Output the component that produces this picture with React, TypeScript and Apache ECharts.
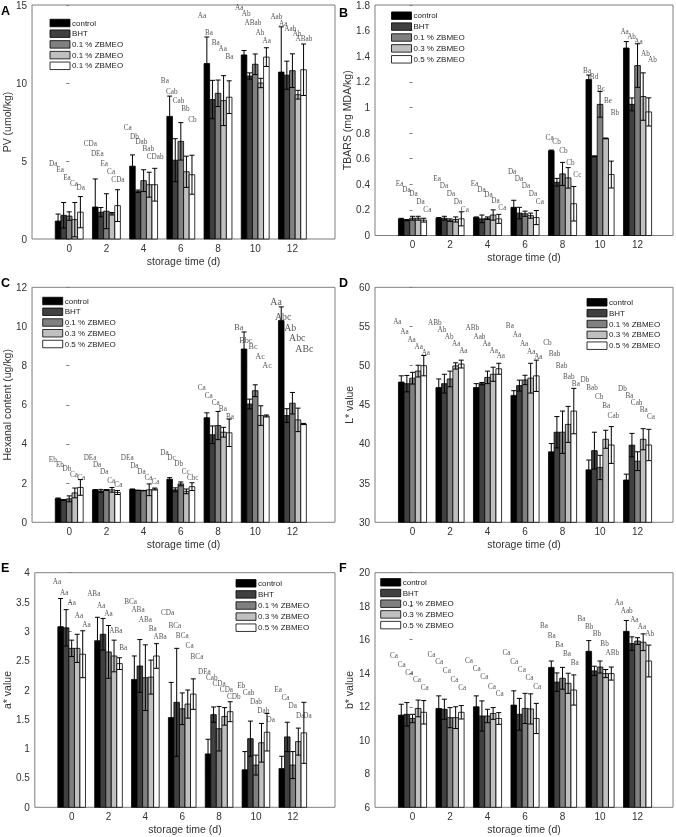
import React, { useEffect, useRef } from "react";
import * as echarts from "echarts";

// ---------- data ----------
const days = [0, 2, 4, 6, 8, 10, 12];
const treatments = ["control", "BHT", "0.1 % ZBMEO", "0.3 % ZBMEO", "0.5 % ZBMEO"];
const legendNamesA = ["control", "BHT", "0.1 % ZBMEO", "0.1 % ZBMEO", "0.1 % ZBMEO"];

// A: PV (umol/kg) — rows = treatments, cols = days
const pvMean = [
  [1.15, 2.05, 4.67, 7.86, 11.25, 11.8, 10.7],
  [1.52, 1.72, 3.06, 5.05, 8.94, 10.45, 10.5],
  [1.47, 1.78, 3.74, 6.26, 9.34, 11.2, 10.79],
  [1.24, 1.62, 3.48, 4.31, 8.87, 10.0, 9.25],
  [1.72, 2.14, 3.48, 4.12, 9.09, 11.66, 10.85],
];
const pvErr = [
  [0.45, 1.8, 0.72, 1.3, 1.7, 0.28, 2.9],
  [0.82, 0.3, 0.08, 1.38, 1.23, 0.2, 0.9],
  [0.27, 1.12, 0.7, 1.2, 0.85, 0.66, 1.08],
  [1.1, 0.08, 0.8, 1.0, 1.6, 0.3, 0.28],
  [1.0, 1.02, 1.05, 1.25, 1.05, 0.6, 1.65],
];
// letters / label heights — rows = days, cols = treatments
const pvLetters = [
  ["Da", "Ea", "Ea", "Ca", "Da"],
  ["CDa", "DEa", "Ea", "Ca", "CDa"],
  ["Ca", "Db", "Dab", "Bab", "CDab"],
  ["Ba", "Cab", "Cab", "Bb", "Cb"],
  ["Aa", "Ba", "Ba", "Aa", "Ba"],
  ["Aa", "Ab", "ABab", "Ab", "Aa"],
  ["Aab", "Aa", "Aab", "Ab", "ABab"],
];
const pvLabelY = [
  [4.83, 4.45, 3.91, 3.55, 3.24],
  [6.11, 5.47, 4.83, 4.29, 3.81],
  [7.1, 6.57, 6.25, 5.79, 5.25],
  [10.1, 9.4, 8.87, 8.34, 7.66],
  [14.3, 13.23, 12.55, 12.17, 11.68],
  [14.79, 14.44, 13.87, 13.23, 12.7],
  [14.23, 13.8, 13.45, 13.13, 12.85],
];

// B: TBARS (mg MDA/kg)
const tbarsMean = [
  [0.13, 0.135, 0.14, 0.22, 0.662, 1.218, 1.464],
  [0.12, 0.135, 0.13, 0.175, 0.416, 0.618, 1.024],
  [0.135, 0.12, 0.135, 0.17, 0.481, 1.024, 1.327],
  [0.135, 0.125, 0.16, 0.155, 0.45, 0.758, 1.085],
  [0.12, 0.13, 0.13, 0.14, 0.248, 0.476, 0.965],
];
const tbarsErr = [
  [0.004, 0.005, 0.005, 0.055, 0.005, 0.035, 0.05],
  [0.005, 0.015, 0.03, 0.045, 0.03, 0.004, 0.05],
  [0.015, 0.01, 0.01, 0.02, 0.09, 0.1, 0.17],
  [0.015, 0.02, 0.04, 0.02, 0.08, 0.003, 0.185],
  [0.015, 0.055, 0.035, 0.055, 0.135, 0.105, 0.11],
];
const tbarsLetters = [
  ["Ea", "Da", "Da", "Da", "Ca"],
  ["Ea", "Da", "Da", "Da", "Ca"],
  ["Ea", "Da", "Da", "Da", "Ca"],
  ["Da", "Da", "Da", "Da", "Ca"],
  ["Ca", "Cb", "Cb", "Cb", "Cc"],
  ["Ba", "Bd", "Bc", "Be", "Bb"],
  ["Aa", "Ab", "Aa", "Ab", "Ab"],
];
const tbarsLabelY = [
  [0.403, 0.352, 0.321, 0.259, 0.202],
  [0.442, 0.385, 0.326, 0.259, 0.202],
  [0.403, 0.357, 0.318, 0.266, 0.212],
  [0.497, 0.442, 0.385, 0.321, 0.259],
  [0.765, 0.727, 0.657, 0.569, 0.476],
  [1.288, 1.239, 1.146, 1.05, 0.954],
  [1.593, 1.554, 1.51, 1.42, 1.368],
];

// C: Hexanal content (ug/kg)
const hexMean = [
  [1.21, 1.65, 1.68, 2.2, 5.34, 8.85, 10.3],
  [1.14, 1.6, 1.63, 1.66, 4.47, 6.04, 5.45],
  [1.2, 1.65, 1.62, 1.96, 4.94, 6.72, 6.08],
  [1.5, 1.66, 1.66, 1.58, 4.6, 5.45, 5.23],
  [1.78, 1.52, 1.7, 1.82, 4.57, 5.43, 5.02],
];
const hexErr = [
  [0.03, 0.02, 0.02, 0.08, 0.25, 0.87, 0.7],
  [0.02, 0.08, 0.01, 0.1, 0.45, 0.25, 0.35],
  [0.15, 0.02, 0.01, 0.1, 0.72, 0.3, 0.55],
  [0.25, 0.12, 0.3, 0.12, 0.25, 0.5, 0.6],
  [0.4, 0.1, 0.05, 0.2, 0.7, 0.05, 0.03],
];
const hexLetters = [
  ["Eb", "Eb", "Db", "Ca", "Ca"],
  ["DEa", "Da", "Da", "Ca", "Ca"],
  ["DEa", "Da", "Da", "Ca", "Ca"],
  ["Da", "Dc", "Db", "Cc", "Cbc"],
  ["Ca", "Ca", "Ca", "Ba", "Ba"],
  ["Ba", "Bbc", "Bc", "Ac", "Ac"],
  ["Aa", "Abc", "Ab", "Abc", "ABc"],
];
const hexLabelY = [
  [3.18, 2.93, 2.71, 2.42, 2.25],
  [3.27, 2.93, 2.59, 2.13, 1.91],
  [3.3, 2.89, 2.55, 2.25, 2.04],
  [3.52, 3.3, 2.96, 2.55, 2.25],
  [6.84, 6.45, 6.08, 5.77, 5.4],
  [9.94, 9.28, 8.97, 8.49, 8.03],
  [11.27, 10.5, 9.96, 9.43, 8.89],
];

// D: L* value
const lMean = [
  [47.9, 47.2, 47.2, 46.2, 39.0, 36.7, 35.4],
  [47.7, 47.7, 47.7, 47.45, 41.5, 39.15, 39.85],
  [48.4, 48.3, 48.5, 48.17, 41.5, 37.0, 37.8],
  [49.3, 49.96, 48.9, 48.4, 42.5, 40.6, 40.6],
  [50.0, 50.2, 49.6, 48.7, 44.2, 39.87, 39.87],
];
const lErr = [
  [0.8, 1.1, 0.5, 0.6, 1.05, 1.25, 0.75],
  [1.05, 1.2, 0.15, 0.7, 2.0, 2.35, 1.5],
  [0.75, 1.0, 0.8, 0.6, 2.7, 1.55, 1.2],
  [0.75, 0.4, 0.9, 1.9, 2.3, 1.15, 1.35],
  [1.3, 0.5, 0.7, 2.0, 2.9, 2.35, 2.0],
];
const lLetters = [
  ["Aa", "Aa", "Aa", "Aa", "Aa"],
  ["ABb", "Ab", "Ab", "Aa", "Aa"],
  ["ABb", "Aab", "Aa", "Aa", "Aa"],
  ["Ba", "Aa", "Aa", "Aa", "Aa"],
  ["Cb", "Bab", "Bab", "Bab", "Ba"],
  ["Db", "Bab", "Cb", "Ba", "Cab"],
  ["Db", "Ba", "Cab", "Ba", "Ca"],
];
const lLabelY = [
  [55.6, 54.26, 53.28, 52.4, 51.6],
  [55.4, 54.5, 53.6, 52.8, 51.9],
  [54.85, 53.7, 52.8, 51.9, 51.2],
  [55.0, 53.9, 52.8, 51.8, 51.1],
  [52.85, 51.5, 49.9, 48.6, 47.7],
  [48.2, 47.2, 46.0, 44.8, 43.6],
  [47.0, 46.1, 45.2, 44.3, 43.4],
];

// E: a* value
const aMean = [
  [3.08, 2.84, 2.18, 1.53, 0.91, 0.64, 0.66],
  [3.06, 2.95, 2.41, 1.79, 1.58, 1.17, 1.2],
  [2.71, 2.65, 2.21, 1.68, 1.34, 0.72, 0.72],
  [2.71, 2.58, 2.22, 1.76, 1.55, 1.1, 1.12],
  [2.61, 2.45, 2.58, 1.93, 1.63, 1.28, 1.27],
];
const aErr = [
  [0.48, 0.4, 0.4, 0.6, 0.25, 0.31, 0.21],
  [0.31, 0.27, 0.45, 0.92, 0.13, 0.3, 0.25],
  [0.14, 0.45, 0.56, 0.27, 0.38, 0.17, 0.23],
  [0.24, 0.27, 0.29, 0.24, 0.15, 0.33, 0.23],
  [0.4, 0.1, 0.21, 0.26, 0.17, 0.32, 0.52],
];
const aLetters = [
  ["Aa", "Aa", "Aa", "Aa", "Aa"],
  ["ABa", "Aa", "Aa", "ABa", "Ba"],
  ["BCa", "ABa", "ABa", "Ba", "ABa"],
  ["CDa", "BCa", "BCa", "Ca", "BCa"],
  ["DEa", "Cab", "CDa", "CDa", "CDb"],
  ["Eb", "Cab", "Dab", "Dab", "Da"],
  ["Ea", "Ca", "Da", "Da", "Da"],
];
const aLabelY = [
  [3.84, 3.66, 3.48, 3.26, 3.11],
  [3.63, 3.43, 3.29, 3.0, 2.72],
  [3.5, 3.36, 3.2, 3.04, 2.9],
  [3.31, 3.09, 2.92, 2.75, 2.57],
  [2.3, 2.21, 2.1, 2.0, 1.875],
  [2.07, 1.95, 1.8, 1.65, 1.48],
  [2.0, 1.86, 1.73, 1.56, 1.55],
];

// F: b* value
const bMean = [
  [11.5, 11.9, 12.0, 12.1, 14.35, 15.31, 16.5],
  [11.55, 11.85, 11.45, 11.55, 13.47, 14.14, 15.77],
  [11.3, 11.35, 11.45, 11.9, 13.7, 14.37, 15.92],
  [11.9, 11.35, 11.6, 11.87, 13.4, 13.98, 15.85],
  [11.67, 11.67, 11.3, 11.3, 13.0, 13.98, 14.73],
];
const bErr = [
  [0.65, 0.75, 0.65, 0.85, 0.38, 0.64, 0.65],
  [0.7, 0.6, 0.9, 0.95, 0.55, 0.28, 0.4],
  [0.25, 0.6, 0.4, 0.9, 0.65, 0.36, 0.2],
  [0.5, 0.65, 0.35, 0.9, 0.6, 0.24, 0.5],
  [0.7, 0.4, 0.35, 0.9, 0.9, 0.39, 0.95],
];
const bLetters = [
  ["Ca", "Ca", "Ca", "Ca", "Ca"],
  ["Ca", "Ca", "Ca", "Ca", "Ca"],
  ["Ca", "Ca", "Ca", "Ca", "Ca"],
  ["Ca", "Ca", "Ca", "Ca", "Ca"],
  ["Ba", "Ba", "Ba", "Ba", "Ba"],
  ["Ba", "Bb", "Bb", "Bb", "ABb"],
  ["Aa", "Aab", "Aa", "Aa", "Ab"],
];
const bLabelY = [
  [15.03, 14.49, 13.99, 13.6, 13.14],
  [15.09, 14.65, 14.15, 13.6, 13.14],
  [14.73, 14.25, 13.75, 13.2, 12.76],
  [15.18, 14.69, 14.19, 13.69, 13.2],
  [16.82, 16.22, 15.68, 15.15, 14.59],
  [17.23, 16.78, 16.34, 15.72, 15.18],
  [18.2, 17.7, 17.2, 16.78, 16.32],
];

// ---------- layout / style ----------
const COLORS = ["#000000", "#404040", "#808080", "#c0c0c0", "#ffffff"];
const BAR_W = 0.3;
const CAP_W = 0.27;
const SANS = "Liberation Sans";
const SERIF = "Liberation Serif";
const FRAME = "#7f7f7f";
const LETTER_COLOR = "#2a2a2a";

type Panel = {
  tag: string; tagX: number; tagY: number;
  left: number; top: number; width: number; height: number;
  xMax: number; yMin: number; yMax: number; yInt: number;
  yName: string; yNameGap: number;
  mean: number[][]; err: number[][]; letters: string[][]; labelY: number[][];
  lblShift: number; lblSpread: number; lblSize: number[];
  legend: string[]; legX: number; legY: number; legGap: number;
};

const L = 7.2;
const panels: Panel[] = [
  { tag: "A", tagX: 1, tagY: 4, left: 29, top: 4, width: 306, height: 235, xMax: 14.29,
    yMin: 0, yMax: 15, yInt: 5, yName: "PV (umol/kg)", yNameGap: 17,
    mean: pvMean, err: pvErr, letters: pvLetters, labelY: pvLabelY,
    lblShift: -0.12, lblSpread: 0.37, lblSize: [L, L, L, L, L, L, L],
    legend: legendNamesA, legX: 50, legY: 23, legGap: 10.7 },
  { tag: "B", tagX: 339, tagY: 6, left: 375, top: 3.5, width: 298, height: 232, xMax: 13.89,
    yMin: 0, yMax: 1.8, yInt: 0.2, yName: "TBARS (mg MDA/kg)", yNameGap: 20,
    mean: tbarsMean, err: tbarsErr, letters: tbarsLetters, labelY: tbarsLabelY,
    lblShift: 0.05, lblSpread: 0.37, lblSize: [L, L, L, L, L, L, L],
    legend: treatments, legX: 391.5, legY: 15.7, legGap: 10.9 },
  { tag: "C", tagX: 1, tagY: 276, left: 29, top: 287.3, width: 306, height: 235, xMax: 14.29,
    yMin: 0, yMax: 12, yInt: 2, yName: "Hexanal content (ug/kg)", yNameGap: 15.5,
    mean: hexMean, err: hexErr, letters: hexLetters, labelY: hexLabelY,
    lblShift: -0.12, lblSpread: 0.38, lblSize: [L, L, L, L, L, 8.2, 9.8],
    legend: treatments, legX: 42.7, legY: 301, legGap: 10.75 },
  { tag: "D", tagX: 339, tagY: 276, left: 375, top: 287.3, width: 298, height: 235, xMax: 13.89,
    yMin: 30, yMax: 60, yInt: 5, yName: "L* value", yNameGap: 19,
    mean: lMean, err: lErr, letters: lLetters, labelY: lLabelY,
    lblShift: -0.05, lblSpread: 0.38, lblSize: [L, L, L, L, L, L, L],
    legend: treatments, legX: 587, legY: 302.3, legGap: 10.85 },
  { tag: "E", tagX: 1, tagY: 561, left: 29, top: 572.7, width: 306, height: 234.6, xMax: 14.29,
    yMin: 0, yMax: 4, yInt: 0.5, yName: "a* value", yNameGap: 17.5,
    mean: aMean, err: aErr, letters: aLetters, labelY: aLabelY,
    lblShift: 0, lblSpread: 0.4, lblSize: [L, L, L, L, L, L, L],
    legend: treatments, legX: 236, legY: 583.3, legGap: 11.1 },
  { tag: "F", tagX: 339, tagY: 561, left: 375, top: 572.7, width: 298, height: 234.6, xMax: 13.89,
    yMin: 6, yMax: 20, yInt: 2, yName: "b* value", yNameGap: 17.5,
    mean: bMean, err: bErr, letters: bLetters, labelY: bLabelY,
    lblShift: -0.17, lblSpread: 0.41, lblSize: [L, L, L, L, L, L, L],
    legend: treatments, legX: 380.7, legY: 582.3, legGap: 10.7 },
];

function makeRender(p: Panel, s: number) {
  return (_params: any, api: any) => {
    const x = api.value(0);
    const v = api.value(1);
    const e = api.value(2);
    const xc = x + (s - 2) * BAR_W;
    const tl = api.coord([xc - BAR_W / 2, v]);
    const br = api.coord([xc + BAR_W / 2, p.yMin]);
    const top = api.coord([xc, v + e]);
    const bot = api.coord([xc, Math.max(v - e, p.yMin)]);
    const half = api.size([CAP_W, 0])[0] / 2;
    const lineStyle = { stroke: "#000", lineWidth: 1, fill: "none" };
    return {
      type: "group",
      children: [
        {
          type: "rect",
          shape: { x: tl[0], y: tl[1], width: br[0] - tl[0], height: br[1] - tl[1] },
          style: { fill: COLORS[s], stroke: "#000", lineWidth: 0.8 },
        },
        { type: "line", shape: { x1: top[0], y1: top[1], x2: bot[0], y2: bot[1] }, style: lineStyle },
        { type: "line", shape: { x1: top[0] - half, y1: top[1], x2: top[0] + half, y2: top[1] }, style: lineStyle },
        { type: "line", shape: { x1: bot[0] - half, y1: bot[1], x2: bot[0] + half, y2: bot[1] }, style: lineStyle },
      ],
    };
  };
}

function buildOption() {
  const grid: any[] = [];
  const xAxis: any[] = [];
  const yAxis: any[] = [];
  const series: any[] = [];
  const graphic: any[] = [];

  panels.forEach((p, pi) => {
    grid.push({
      left: p.left, top: p.top, width: p.width, height: p.height,
      show: true, borderColor: FRAME, borderWidth: 1, backgroundColor: "transparent",
    });
    xAxis.push({
      type: "value", gridIndex: pi, min: -2, max: p.xMax, interval: 2,
      name: "storage time (d)", nameLocation: "middle", nameGap: 16,
      nameTextStyle: { fontFamily: SANS, fontSize: 10.5, color: "#333" },
      axisLine: { show: false }, axisTick: { show: false }, splitLine: { show: false },
      axisLabel: {
        margin: 4, fontFamily: SANS, fontSize: 10, color: "#333",
        showMinLabel: false, showMaxLabel: false,
        formatter: (v: number) => (v >= 0 && v <= 12 && Math.abs(v % 2) < 1e-6 ? String(v) : ""),
      },
    });
    yAxis.push({
      type: "value", gridIndex: pi, min: p.yMin, max: p.yMax, interval: p.yInt,
      name: p.yName, nameLocation: "middle", nameGap: p.yNameGap, nameRotate: 90,
      nameTextStyle: { fontFamily: SANS, fontSize: 10.5, color: "#333" },
      axisLine: { show: false },
      axisTick: { show: true, inside: false, length: 3, lineStyle: { color: FRAME } },
      splitLine: { show: false },
      axisLabel: { margin: 5, fontFamily: SANS, fontSize: 10, color: "#333" },
    });
    for (let s = 0; s < 5; s++) {
      series.push({
        type: "custom",
        name: treatments[s],
        xAxisIndex: pi,
        yAxisIndex: pi,
        renderItem: makeRender(p, s),
        encode: { x: 0, y: 1 },
        data: days.map((d, i) => [d, p.mean[s][i], p.err[s][i]]),
        z: 2,
      });
    }
    // significance letters as labels of an invisible scatter series
    const letterData: any[] = [];
    days.forEach((d, gi) => {
      for (let s = 0; s < 5; s++) {
        letterData.push({
          value: [d + p.lblShift + (s - 2) * p.lblSpread, p.labelY[gi][s]],
          label: { formatter: p.letters[gi][s], fontSize: p.lblSize[gi] },
        });
      }
    });
    series.push({
      type: "scatter",
      name: "letters",
      xAxisIndex: pi,
      yAxisIndex: pi,
      symbolSize: 0,
      silent: true,
      itemStyle: { color: "transparent" },
      label: {
        show: true, position: "inside", color: LETTER_COLOR,
        fontFamily: SERIF, fontSize: L, textBorderWidth: 0,
      },
      data: letterData,
      z: 5,
    });
    // panel tag
    graphic.push({
      type: "text", left: p.tagX, top: p.tagY,
      style: { text: p.tag, fontFamily: SANS, fontWeight: "bold", fontSize: 12.5, fill: "#000" },
    });
    // legend
    p.legend.forEach((name, s) => {
      const yc = p.legY + s * p.legGap;
      graphic.push({
        type: "rect",
        shape: { x: p.legX, y: yc - 3.75, width: 20, height: 7.5 },
        style: { fill: COLORS[s], stroke: "#000", lineWidth: 0.8 },
        z: 10,
      });
      graphic.push({
        type: "text",
        x: p.legX + 22, y: yc,
        style: {
          text: name, fontFamily: SANS, fontSize: 8, fill: "#222",
          verticalAlign: "middle", textVerticalAlign: "middle",
        },
        z: 10,
      });
    });
  });

  return { animation: false, backgroundColor: "#fff", grid, xAxis, yAxis, series, graphic };
}

export default function App() {
  const ref = useRef<HTMLDivElement>(null);
  useEffect(() => {
    document.body.style.margin = "0";
    if (!ref.current) return;
    const chart = echarts.init(ref.current, undefined, { renderer: "svg" });
    chart.setOption(buildOption() as any);
    return () => chart.dispose();
  }, []);
  // the figure is pure grayscale; the filter also suppresses coloured sub-pixel text fringes
  return <div ref={ref} style={{ width: 676, height: 837, filter: "grayscale(100%)" }} />;
}
